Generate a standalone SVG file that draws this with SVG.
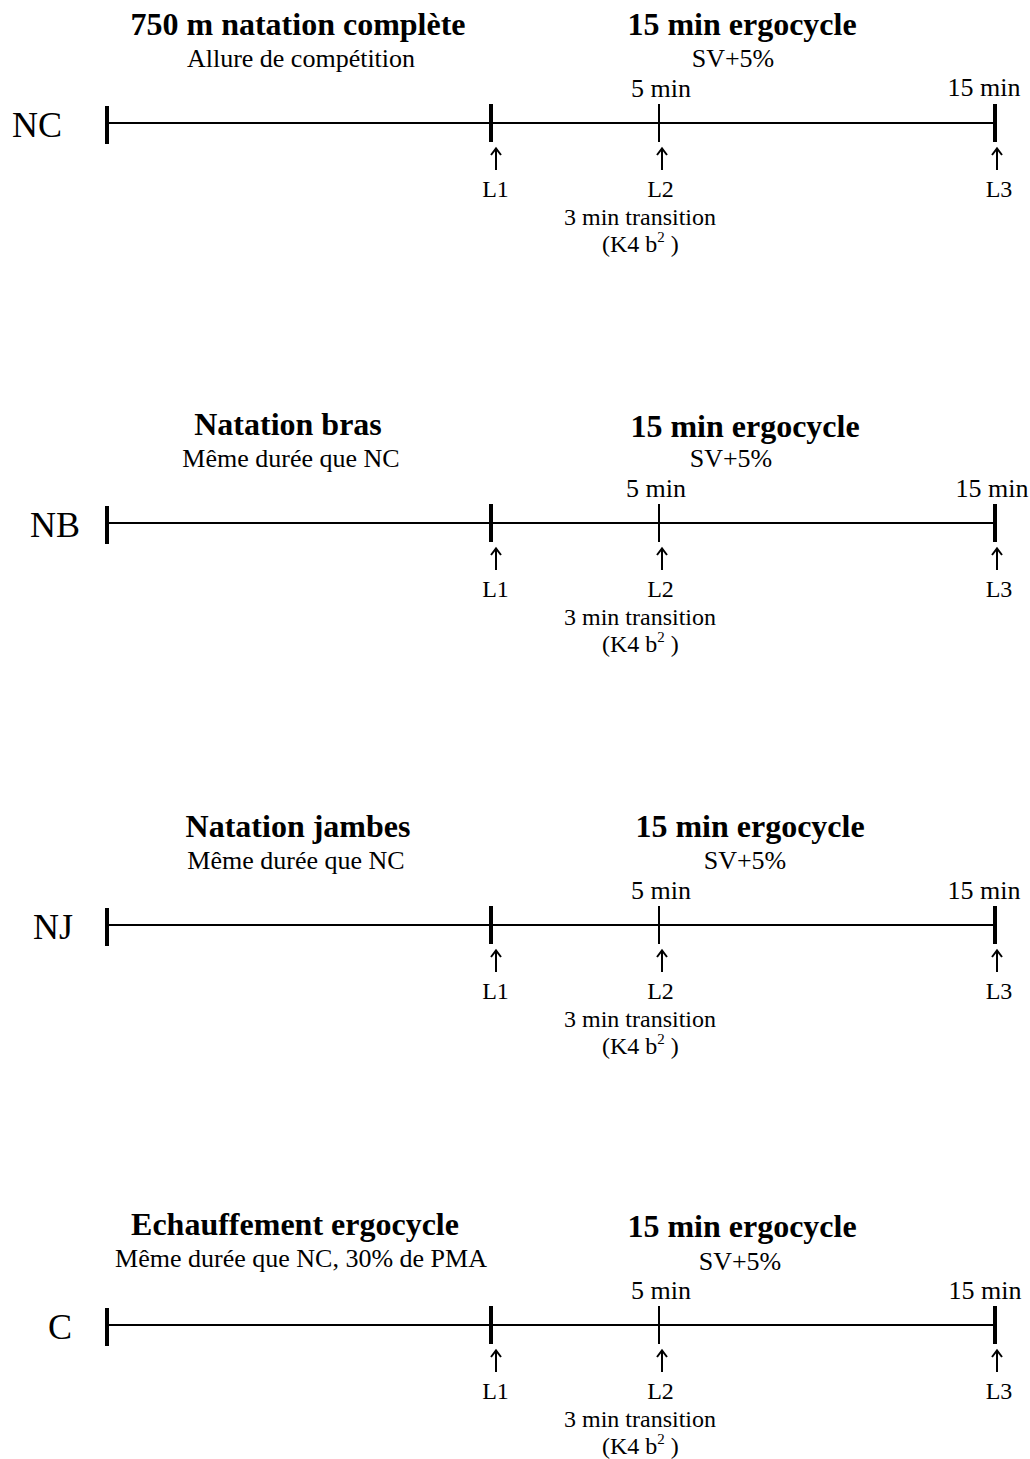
<svg xmlns="http://www.w3.org/2000/svg" width="1030" height="1459" viewBox="0 0 1030 1459">
<style>
text{font-family:"Liberation Serif","Times New Roman",serif;fill:#000}
.t{font-size:32px;font-weight:bold;text-anchor:middle}
.s{font-size:26px;text-anchor:middle}
.m{font-size:26px;text-anchor:middle}
.lab{font-size:36px}
.l{font-size:24px;text-anchor:middle}
.axis{stroke:#000;stroke-width:1.8;fill:none}
.thick{stroke:#000;stroke-width:4;fill:none}
.thin{stroke:#000;stroke-width:2;fill:none}
.arr{stroke:#000;stroke-width:2;fill:none;stroke-linecap:butt}
</style>
<defs>
<g id="arrow"><path class="arr" d="M0,2 V23 M-5,8 L0,1.5 L5,8"/></g>
<g id="timeline">
<line class="axis" x1="107" y1="123" x2="995" y2="123"/>
<line class="thick" x1="107" y1="106" x2="107" y2="144"/>
<line class="thick" x1="491" y1="104" x2="491" y2="142"/>
<line class="thin" x1="659" y1="104" x2="659" y2="142"/>
<line class="thick" x1="995" y1="104" x2="995" y2="142"/>
<text class="l" x="495.5" y="197">L1</text>
<text class="l" x="660.5" y="197">L2</text>
<text class="l" x="999" y="197">L3</text>
<text class="l" x="640" y="225">3 min transition</text>
<text class="l" x="602" y="252" style="text-anchor:start">(K4 b<tspan font-size="15" dy="-10">2</tspan><tspan dy="10"> )</tspan></text>
</g>
</defs>

<g id="panel-NC">
<use href="#timeline"/>
<text class="t" x="298" y="35">750 m natation complète</text>
<text class="s" x="301" y="67">Allure de compétition</text>
<text class="t" x="742" y="35">15 min ergocycle</text>
<text class="s" x="733" y="67">SV+5%</text>
<text class="m" x="661" y="97">5 min</text>
<text class="m" x="984" y="96">15 min</text>
<text class="lab" x="12" y="137">NC</text>
</g>

<g id="panel-NB" transform="translate(0,400)">
<use href="#timeline"/>
<text class="t" x="288" y="35">Natation bras</text>
<text class="s" x="291" y="67">Même durée que NC</text>
<text class="t" x="745" y="37">15 min ergocycle</text>
<text class="s" x="731" y="67">SV+5%</text>
<text class="m" x="656" y="97">5 min</text>
<text class="m" x="992" y="97">15 min</text>
<text class="lab" x="30" y="137">NB</text>
</g>

<g id="panel-NJ" transform="translate(0,802)">
<use href="#timeline"/>
<text class="t" x="298" y="35">Natation jambes</text>
<text class="s" x="296" y="67">Même durée que NC</text>
<text class="t" x="750" y="35">15 min ergocycle</text>
<text class="s" x="745" y="67">SV+5%</text>
<text class="m" x="661" y="97">5 min</text>
<text class="m" x="984" y="97">15 min</text>
<text class="lab" x="33" y="137">NJ</text>
</g>

<g id="panel-C" transform="translate(0,1202)">
<use href="#timeline"/>
<text class="t" x="295" y="33">Echauffement ergocycle</text>
<text class="s" x="301" y="65">Même durée que NC, 30% de PMA</text>
<text class="t" x="742" y="35">15 min ergocycle</text>
<text class="s" x="740" y="68">SV+5%</text>
<text class="m" x="661" y="97">5 min</text>
<text class="m" x="985" y="97">15 min</text>
<text class="lab" x="48" y="137">C</text>
</g>

<g id="connectors">
<use href="#arrow" x="496" y="147"/>
<use href="#arrow" x="662" y="147"/>
<use href="#arrow" x="997" y="147"/>
<use href="#arrow" x="496" y="547"/>
<use href="#arrow" x="662" y="547"/>
<use href="#arrow" x="997" y="547"/>
<use href="#arrow" x="496" y="949"/>
<use href="#arrow" x="662" y="949"/>
<use href="#arrow" x="997" y="949"/>
<use href="#arrow" x="496" y="1349"/>
<use href="#arrow" x="662" y="1349"/>
<use href="#arrow" x="997" y="1349"/>
</g>
</svg>
